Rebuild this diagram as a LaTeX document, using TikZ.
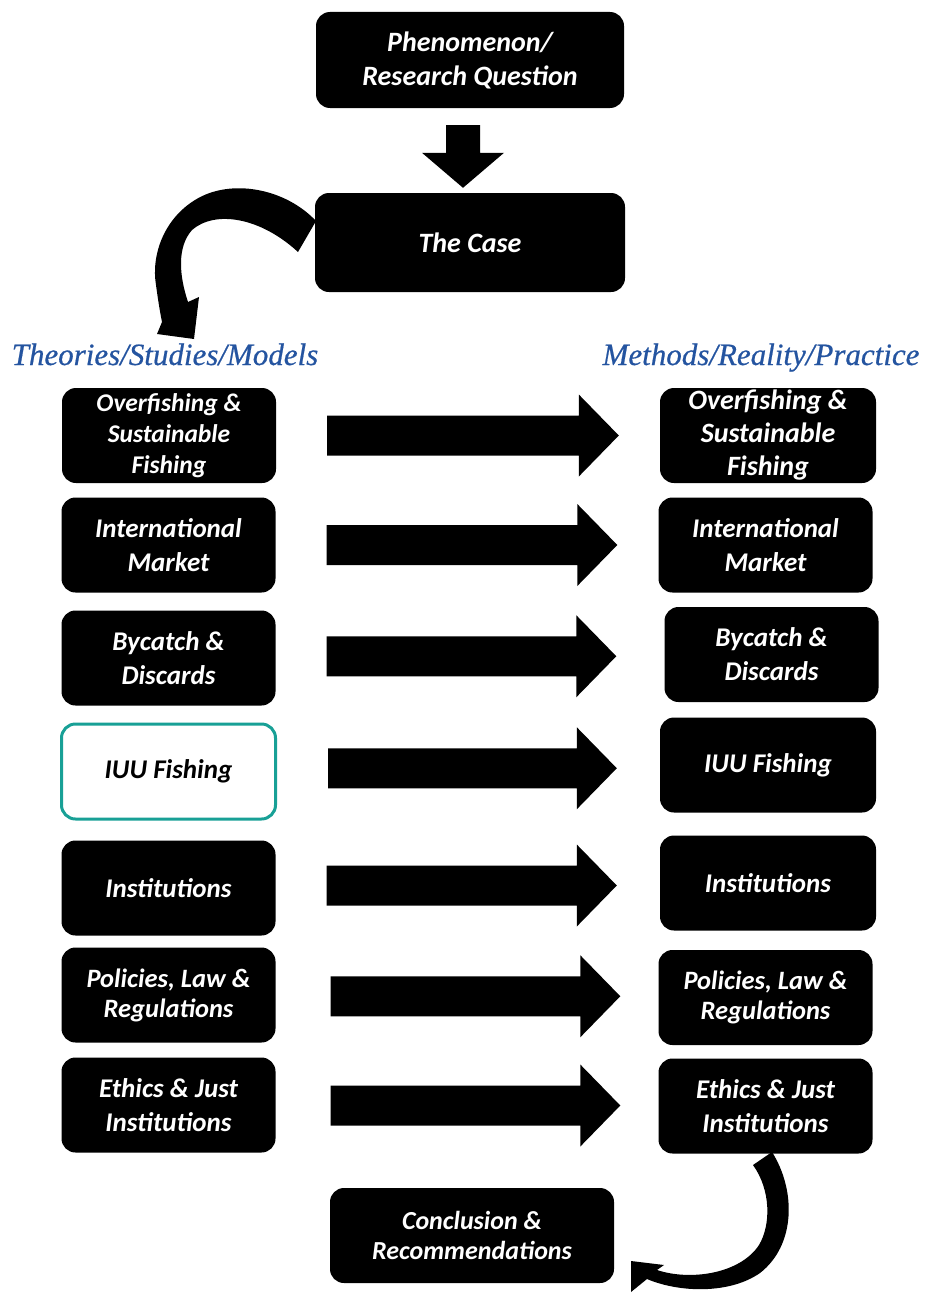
\documentclass[tikz,border=0pt]{standalone}
\usepackage{fontspec}
\setmainfont{Carlito}
\newfontfamily\headfont[FakeBold=0.6]{Liberation Serif}
\usetikzlibrary{calc}
\definecolor{headblue}{RGB}{36,84,160}
\definecolor{iuuteal}{RGB}{24,160,150}

% straight block arrow between two boxes of a row
\newcommand\fatarrow[4]{%
  \fill let \p1=(#1.east), \p2=(#2.west), \p3=($(#1.east)!.5!(#2.west)$) in
    (\x1+#3,\y3+20pt) -- (\x2-#4-40pt,\y3+20pt) -- (\x2-#4-40pt,\y3+41pt)
    -- (\x2-#4,\y3) -- (\x2-#4-40pt,\y3-41pt) -- (\x2-#4-40pt,\y3-20pt)
    -- (\x1+#3,\y3-20pt) -- cycle;}

\tikzset{
  box/.style={rectangle, rounded corners=14pt, fill=black, text=white,
    align=center, inner sep=0pt, minimum width=214, minimum height=95,
    font=\bfseries\itshape\fontsize{27}{34}\selectfont},
  openbox/.style={box, fill=white, draw=iuuteal, line width=3pt, text=black},
  headlab/.style={text=headblue, inner sep=0pt, anchor=base,
    font=\headfont\itshape\fontsize{31}{36}\selectfont},
}

\begin{document}
\begin{tikzpicture}[x=1pt,y=-1pt]
\useasboundingbox (0,0) rectangle (927,1298);

% curved arrow from the case to the theory column
\fill (316,221) .. controls (285,188) and (230,178) .. (195,200)
  .. controls (164,219) and (151,255) .. (156,285)
  .. controls (158,300) and (160,312) .. (162,322)
  -- (157,334) -- (194,339) -- (199,297) -- (188,302)
  .. controls (179,275) and (177,247) .. (192,230)
  .. controls (215,210) and (260,217) .. (298,252) -- cycle;

% curved arrow from the last practice box to the conclusion
\fill (772,1152) .. controls (796,1190) and (796,1245) .. (760,1273)
  .. controls (730,1294) and (680,1293) .. (647,1279)
  -- (631,1292) -- (631,1261) -- (664,1265) -- (657,1270)
  .. controls (690,1281) and (740,1274) .. (759,1245)
  .. controls (771,1225) and (771,1190) .. (753,1165) -- cycle;

% top of the flow
\node[box, minimum width=308, minimum height=96,
  font=\bfseries\itshape\fontsize{28}{34}\selectfont] (phen) at (470,60)
  {Phenomenon/\\Research Question};
\node[box, minimum width=310, minimum height=99,
  font=\bfseries\itshape\fontsize{28}{34}\selectfont] (case) at (470,242.5)
  {The Case};

\fill let \p1=(phen.south), \p2=(case.north) in
  (\x1-24pt,\y1-17pt) -- (\x1-24pt,\y2+40pt) -- (\x1-48pt,\y2+40pt)
  -- (\x1-7pt,\y2+5pt) -- (\x1+34pt,\y2+40pt) -- (\x1+10pt,\y2+40pt)
  -- (\x1+10pt,\y1-17pt) -- cycle;

% column headings
\node[headlab] (theo) at (165,365) {Theories/Studies/Models};
\node[headlab] (meth) at (761,365) {Methods/Reality/Practice};

% theory column
\node[box, font=\bfseries\itshape\fontsize{25.5}{31}\selectfont] (L1) at (169,435.5)
  {Overfishing \&\\Sustainable\\Fishing};
\node[box] (L2) at (168.5,545) {International\\Market};
\node[box] (L3) at (168.5,658) {Bycatch \&\\Discards};
\node[openbox] (L4) at (168.5,771.5) {IUU Fishing};
\node[box] (L5) at (168.5,888) {Institutions};
\node[box, font=\bfseries\itshape\fontsize{26.5}{30}\selectfont] (L6) at (168.5,995)
  {Policies, Law \&\\Regulations};
\node[box] (L7) at (168.5,1105) {Ethics \& Just\\Institutions};

% practice column
\node[box, minimum width=216, font=\bfseries\itshape\fontsize{28}{33}\selectfont] (R1) at (768,435.5)
  {Overfishing \&\\Sustainable\\Fishing};
\node[box] (R2) at (765.5,545) {International\\Market};
\node[box] (R3) at (771.5,654.5) {Bycatch \&\\Discards};
\node[box, minimum width=216] (R4) at (768,765) {IUU Fishing};
\node[box, minimum width=216] (R5) at (768,883) {Institutions};
\node[box, font=\bfseries\itshape\fontsize{26.5}{30}\selectfont] (R6) at (765.5,997.5)
  {Policies, Law \&\\Regulations};
\node[box] (R7) at (765.5,1106) {Ethics \& Just\\Institutions};

% conclusion
\node[box, minimum width=284, font=\bfseries\itshape\fontsize{26}{30}\selectfont] (conc) at (472,1235.5)
  {Conclusion \&\\Recommendations};

% row arrows
\fatarrow{L1}{R1}{51pt}{41pt}
\fatarrow{L2}{R2}{51pt}{41pt}
\fatarrow{L3}{R3}{51pt}{48pt}
\fatarrow{L4}{R4}{51pt}{43pt}
\fatarrow{L5}{R5}{51pt}{43pt}
\fatarrow{L6}{R6}{55pt}{38pt}
\fatarrow{L7}{R7}{55pt}{38pt}
\end{tikzpicture}
\end{document}
